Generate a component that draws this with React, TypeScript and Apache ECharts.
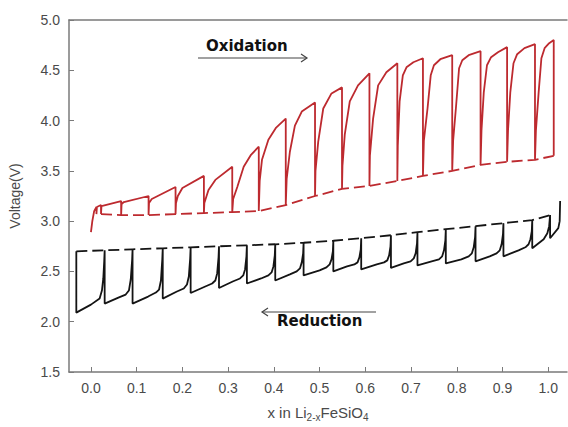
import React, { useEffect, useRef } from "react";
import * as echarts from "echarts";

// Oxidation (charge) GITT trace: [x, voltage]
const oxTrace: [number, number][] = [
  [0.000, 2.89], [0.003, 3.00], [0.007, 3.10], [0.012, 3.14], [0.012, 3.07],
  [0.013, 3.14], [0.022, 3.16], [0.022, 3.07],
  [0.023, 3.15], [0.066, 3.20], [0.066, 3.06],
  [0.067, 3.17], [0.072, 3.19], [0.126, 3.25], [0.126, 3.06],
  [0.127, 3.18], [0.133, 3.22], [0.185, 3.34], [0.185, 3.07],
  [0.186, 3.18], [0.190, 3.25], [0.200, 3.33], [0.247, 3.45], [0.247, 3.08],
  [0.248, 3.18], [0.257, 3.31], [0.272, 3.41], [0.309, 3.54], [0.309, 3.09],
  [0.311, 3.22], [0.320, 3.34], [0.334, 3.54], [0.350, 3.66], [0.367, 3.74], [0.367, 3.10],
  [0.369, 3.40], [0.374, 3.61], [0.388, 3.81], [0.405, 3.93], [0.426, 4.02], [0.426, 3.16],
  [0.428, 3.42], [0.435, 3.69], [0.446, 3.95], [0.461, 4.09], [0.490, 4.18], [0.490, 3.25],
  [0.491, 3.50], [0.497, 3.79], [0.508, 4.12], [0.526, 4.27], [0.549, 4.33], [0.549, 3.32],
  [0.550, 3.55], [0.555, 3.86], [0.566, 4.19], [0.584, 4.35], [0.609, 4.47], [0.609, 3.35],
  [0.610, 3.65], [0.617, 4.02], [0.628, 4.35], [0.646, 4.48], [0.670, 4.57], [0.670, 3.40],
  [0.671, 3.75], [0.675, 4.19], [0.682, 4.45], [0.690, 4.53], [0.705, 4.58], [0.726, 4.62], [0.726, 3.45],
  [0.728, 3.80], [0.736, 4.12], [0.743, 4.45], [0.750, 4.55], [0.764, 4.61], [0.790, 4.65], [0.790, 3.50],
  [0.792, 3.80], [0.798, 4.12], [0.805, 4.52], [0.812, 4.60], [0.826, 4.65], [0.852, 4.69], [0.852, 3.56],
  [0.854, 3.90], [0.859, 4.28], [0.866, 4.55], [0.875, 4.63], [0.890, 4.68], [0.910, 4.73], [0.910, 3.59],
  [0.912, 3.90], [0.917, 4.28], [0.924, 4.57], [0.932, 4.66], [0.948, 4.72], [0.971, 4.76], [0.971, 3.61],
  [0.973, 3.90], [0.979, 4.28], [0.985, 4.62], [0.992, 4.72], [1.002, 4.77], [1.012, 4.80], [1.012, 3.65],
];

// Oxidation relaxed (equilibrium) voltages, dashed
const oxOcv: [number, number][] = [
  [0.022, 3.07], [0.066, 3.06], [0.126, 3.06], [0.185, 3.07], [0.247, 3.08],
  [0.309, 3.09], [0.367, 3.10], [0.426, 3.16], [0.490, 3.25], [0.549, 3.32],
  [0.609, 3.35], [0.670, 3.40], [0.726, 3.45], [0.790, 3.50], [0.852, 3.56],
  [0.910, 3.59], [0.971, 3.61], [1.012, 3.65],
];

// Reduction (discharge) GITT trace, from high x to low x
const redTrace: [number, number][] = [
  [1.026, 3.20], [1.025, 3.00], [1.022, 2.93], [1.004, 2.83], [1.004, 3.06],
  [1.002, 2.95], [0.998, 2.88], [0.990, 2.82], [0.965, 2.73], [0.965, 3.01],
  [0.964, 2.90], [0.961, 2.82], [0.957, 2.77], [0.950, 2.74], [0.935, 2.71], [0.902, 2.65], [0.902, 2.98],
  [0.901, 2.87], [0.898, 2.77], [0.894, 2.71], [0.887, 2.68], [0.872, 2.65], [0.841, 2.60], [0.841, 2.95],
  [0.840, 2.84], [0.837, 2.74], [0.833, 2.68], [0.826, 2.65], [0.810, 2.62], [0.776, 2.58], [0.776, 2.92],
  [0.775, 2.81], [0.772, 2.71], [0.768, 2.65], [0.761, 2.62], [0.745, 2.60], [0.714, 2.56], [0.714, 2.89],
  [0.713, 2.78], [0.710, 2.68], [0.706, 2.63], [0.699, 2.60], [0.684, 2.58], [0.656, 2.535], [0.656, 2.86],
  [0.655, 2.75], [0.652, 2.66], [0.648, 2.61], [0.641, 2.59], [0.625, 2.57], [0.591, 2.52], [0.591, 2.83],
  [0.590, 2.72], [0.587, 2.64], [0.583, 2.59], [0.576, 2.57], [0.560, 2.55], [0.530, 2.50], [0.530, 2.805],
  [0.529, 2.70], [0.526, 2.62], [0.522, 2.57], [0.515, 2.54], [0.500, 2.51], [0.465, 2.46], [0.465, 2.785],
  [0.464, 2.68], [0.461, 2.59], [0.457, 2.53], [0.450, 2.50], [0.435, 2.47], [0.403, 2.41], [0.403, 2.77],
  [0.402, 2.66], [0.399, 2.55], [0.395, 2.49], [0.388, 2.46], [0.372, 2.43], [0.341, 2.38], [0.341, 2.76],
  [0.340, 2.65], [0.337, 2.52], [0.333, 2.46], [0.326, 2.43], [0.310, 2.40], [0.280, 2.335], [0.280, 2.75],
  [0.279, 2.64], [0.276, 2.48], [0.272, 2.41], [0.265, 2.38], [0.250, 2.35], [0.218, 2.285], [0.218, 2.74],
  [0.217, 2.63], [0.214, 2.45], [0.210, 2.37], [0.203, 2.33], [0.188, 2.30], [0.157, 2.23], [0.157, 2.73],
  [0.156, 2.62], [0.153, 2.41], [0.149, 2.32], [0.142, 2.29], [0.125, 2.25], [0.091, 2.18], [0.091, 2.72],
  [0.090, 2.61], [0.087, 2.42], [0.083, 2.31], [0.076, 2.27], [0.060, 2.24], [0.030, 2.18], [0.030, 2.71],
  [0.029, 2.60], [0.027, 2.43], [0.024, 2.31], [0.019, 2.23], [0.000, 2.17], [-0.032, 2.09], [-0.032, 2.70],
];

// Reduction relaxed voltages, dashed
const redOcv: [number, number][] = [
  [-0.032, 2.70], [0.030, 2.71], [0.091, 2.72], [0.157, 2.73], [0.218, 2.74],
  [0.280, 2.75], [0.341, 2.76], [0.403, 2.77], [0.465, 2.785], [0.530, 2.805],
  [0.591, 2.83], [0.656, 2.86], [0.714, 2.89], [0.776, 2.92], [0.841, 2.95],
  [0.902, 2.98], [0.965, 3.01], [1.004, 3.06],
];

const xTicks = [0, 0.1, 0.2, 0.3, 0.4, 0.5, 0.6, 0.7, 0.8, 0.9, 1.0];
const X_MIN = -0.048;
const X_MAX = 1.041;
const Y_MIN = 1.5;
const Y_MAX = 5.0;
const Y_STEP = 0.5;

const RED = "#bd2a2f";
const BLACK = "#141414";
const AXIS = "#7a7a7a";
const LABEL = "#4a4a4a";
const FONT = "Liberation Sans, Arial, sans-serif";

export default function App() {
  const ref = useRef<HTMLDivElement>(null);
  useEffect(() => {
    if (!ref.current) return;
    const chart = echarts.init(ref.current, undefined, { renderer: "svg" });
    const axisLine = { show: true, onZero: false, lineStyle: { color: AXIS, width: 1.5 } };
    chart.setOption({
      animation: false,
      backgroundColor: "#ffffff",
      grid: { left: 66, right: 1, top: 20, bottom: 54 },
      xAxis: [
        {
          type: "value",
          min: X_MIN,
          max: X_MAX,
          axisLine,
          splitLine: { show: false },
          axisTick: { show: true, inside: true, length: 5, customValues: xTicks, lineStyle: { color: AXIS } },
          axisLabel: {
            customValues: xTicks,
            formatter: (v: number) => v.toFixed(1),
            color: LABEL,
            fontSize: 14,
            fontFamily: FONT,
            margin: 9,
          },
          name: "x in Li{sub|2-x}FeSiO{sub|4}",
          nameLocation: "middle",
          nameGap: 31,
          nameTextStyle: {
            color: LABEL,
            fontSize: 15,
            fontFamily: FONT,
            rich: {
              sub: { fontSize: 10, fontFamily: FONT, color: LABEL, padding: [9, 0, 0, 0] },
            },
          },
        },
        {
          type: "value",
          position: "top",
          min: X_MIN,
          max: X_MAX,
          axisLine,
          axisTick: { show: false },
          axisLabel: { show: false },
          splitLine: { show: false },
        },
      ],
      yAxis: {
        type: "value",
        min: Y_MIN,
        max: Y_MAX,
        interval: Y_STEP,
        axisLine,
        splitLine: { show: false },
        axisTick: { show: true, inside: true, length: 5, lineStyle: { color: AXIS } },
        axisLabel: {
          formatter: (v: number) => v.toFixed(1),
          color: LABEL,
          fontSize: 14,
          fontFamily: FONT,
          margin: 9,
        },
        name: "Voltage(V)",
        nameLocation: "middle",
        nameGap: 47,
        nameTextStyle: { color: LABEL, fontSize: 14, fontFamily: FONT },
      },
      series: [
        {
          type: "line",
          data: oxTrace,
          symbol: "none",
          lineStyle: { color: RED, width: 1.8 },
          z: 3,
        },
        {
          type: "line",
          data: oxOcv,
          symbol: "none",
          lineStyle: { color: RED, width: 1.8, type: [11, 5] },
          z: 2,
        },
        {
          type: "line",
          data: redTrace,
          symbol: "none",
          lineStyle: { color: BLACK, width: 1.8 },
          z: 3,
        },
        {
          type: "line",
          data: redOcv,
          symbol: "none",
          lineStyle: { color: BLACK, width: 1.8, type: [11, 5] },
          z: 2,
        },
      ],
      graphic: [
        {
          type: "text",
          left: 206,
          top: 38,
          style: { text: "Oxidation", font: "bold 15px DejaVu Sans", fill: "#111" },
        },
        { type: "line", shape: { x1: 198, y1: 58, x2: 307, y2: 58 }, style: { stroke: "#444", lineWidth: 1.2 } },
        { type: "polyline", shape: { points: [[301, 54], [307, 58], [301, 62]] }, style: { stroke: "#444", lineWidth: 1.2, fill: "none" } },
        {
          type: "text",
          left: 277,
          top: 313,
          style: { text: "Reduction", font: "bold 15px DejaVu Sans", fill: "#111" },
        },
        { type: "line", shape: { x1: 262, y1: 312, x2: 376, y2: 312 }, style: { stroke: "#444", lineWidth: 1.2 } },
        { type: "polyline", shape: { points: [[268, 308], [262, 312], [268, 316]] }, style: { stroke: "#444", lineWidth: 1.2, fill: "none" } },
      ],
    });
    return () => chart.dispose();
  }, []);
  return (
    <div
      ref={ref}
      style={{ position: "fixed", left: 0, top: 0, width: 568, height: 427, background: "#fff" }}
    />
  );
}
